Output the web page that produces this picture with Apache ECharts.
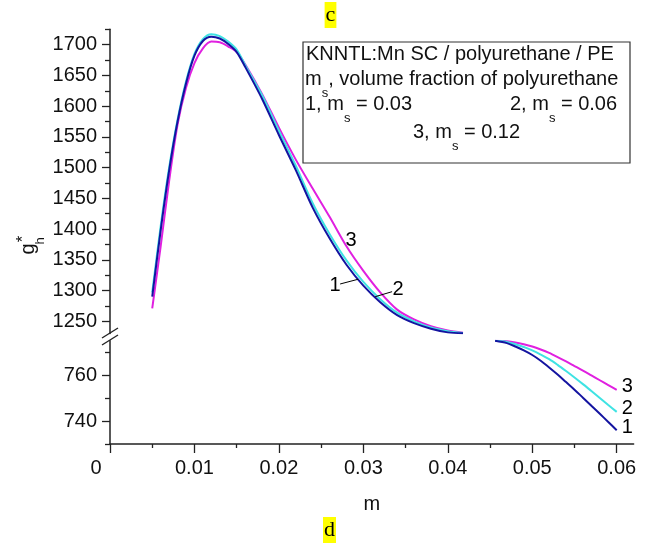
<!DOCTYPE html>
<html>
<head>
<meta charset="utf-8">
<script src="https://cdn.jsdelivr.net/npm/echarts@6/dist/echarts.min.js"></script>
<style>
  html, body { margin: 0; padding: 0; background: #fff; }
  #chart { width: 655px; height: 544px; }
</style>
</head>
<body>
<div id="chart"></div>
<script>
// Upper segment of the broken axis: m from 0.005 to ~0.042
const mUpper = [0.0050, 0.0060, 0.0070, 0.0080, 0.0090, 0.0100, 0.0110, 0.0120, 0.0130,
                0.0140, 0.0150, 0.0160, 0.0180, 0.0200, 0.0220, 0.0240, 0.0260, 0.0280,
                0.0300, 0.0320, 0.0340, 0.0360, 0.0380, 0.0400, 0.0418];
const g1Upper = [1290, 1398, 1495, 1575, 1637, 1682, 1706, 1713, 1710,
                 1701, 1688, 1664, 1612, 1553, 1496, 1435, 1385, 1342,
                 1308, 1281, 1260, 1247, 1238, 1232, 1230.5];
const g2Upper = [1297, 1405, 1500, 1578, 1640, 1685, 1709, 1717, 1714,
                 1705, 1692, 1667, 1618, 1560, 1503, 1442, 1392, 1349,
                 1314, 1286, 1264, 1250, 1240, 1234, 1231];
const g3Upper = [1271, 1372, 1478, 1570, 1630, 1670, 1694, 1705, 1704,
                 1697, 1688, 1668, 1620, 1565, 1513, 1466, 1420, 1372,
                 1332, 1297, 1269, 1253, 1242, 1235, 1231.5];

// Lower segment: m from ~0.0456 to 0.06
const mLower = [0.0456, 0.0470, 0.0480, 0.0490, 0.0500, 0.0510, 0.0520, 0.0530,
                0.0540, 0.0550, 0.0560, 0.0570, 0.0580, 0.0590, 0.0600];
const g1Lower = [775, 774.0, 772.5, 770.8, 768.8, 766.3, 763.4, 760.3,
                 757.0, 753.7, 750.2, 746.7, 743.2, 739.6, 736.0];
const g2Lower = [775, 774.5, 773.5, 772.3, 770.8, 769.0, 767.0, 764.5,
                 761.8, 759.0, 756.1, 753.1, 750.1, 747.0, 744.0];
const g3Lower = [775, 774.8, 774.3, 773.5, 772.5, 771.2, 769.7, 767.9,
                 766.0, 764.0, 762.0, 759.9, 757.8, 755.7, 753.6];

// Tick values
const xMajorTicks = [0, 0.01, 0.02, 0.03, 0.04, 0.05, 0.06];
const xMinorTicks = [0.005, 0.015, 0.025, 0.035, 0.045, 0.055];
const yUpperMajor = [1250, 1300, 1350, 1400, 1450, 1500, 1550, 1600, 1650, 1700];
const yUpperMinor = [1275, 1325, 1375, 1425, 1475, 1525, 1575, 1625, 1675, 1725];
const yLowerMajor = [740, 760];
const yLowerMinor = [730, 750, 770];

// Curve names and in-plot annotations
const curveNames = ['1', '2', '3'];
const msValues = ['0.03', '0.06', '0.12'];
const label3Coord = [0.02855, 1381];
const label1Coord = [0.02666, 1308];
const label2Coord = [0.0341, 1301];
const leader1 = [[0.02725, 1310.7], [0.02938, 1318.4]];
const leader2 = [[0.0314, 1290], [0.0334, 1298.2]];

const FONT = '"Liberation Sans", Arial, sans-serif';
const SERIF = '"Liberation Serif", "Times New Roman", serif';
const AXIS_COLOR = '#222';
const colors = ['#1414a0', '#3fe3e3', '#e020e0'];

const pairs = (xs, ys) => xs.map((x, i) => [x, ys[i]]);

const chart = echarts.init(document.getElementById('chart'), null, { renderer: 'canvas' });

const gridUpper = { left: 110, right: 21.4, top: 29.3, height: 304.3, outerBoundsMode: 'none' };
const gridLower = { left: 110, right: 21.4, top: 340.8, height: 103.2, outerBoundsMode: 'none' };

const tickStyle = { color: AXIS_COLOR, width: 1.3 };
const labelStyle = { fontSize: 20, color: '#111', fontFamily: FONT };

function majorY(grid, min, max, ticks) {
  return {
    gridIndex: grid, type: 'value', min: min, max: max, position: 'left',
    axisLine: { show: true, onZero: false, lineStyle: { color: AXIS_COLOR, width: 1.5 } },
    axisTick: { show: true, inside: false, length: 8, customValues: ticks, lineStyle: tickStyle },
    axisLabel: Object.assign({ show: true, margin: 13, customValues: ticks, formatter: v => String(v) }, labelStyle),
    splitLine: { show: false }
  };
}
function minorY(grid, min, max, ticks) {
  return {
    gridIndex: grid, type: 'value', min: min, max: max, position: 'left', offset: 0,
    axisLine: { show: false },
    axisTick: { show: true, inside: false, length: 5, customValues: ticks, lineStyle: tickStyle },
    axisLabel: { show: false },
    splitLine: { show: false }
  };
}

function lineSeries(name, xi, yi, data, color, extra) {
  return Object.assign({
    name: name, type: 'line', xAxisIndex: xi, yAxisIndex: yi,
    data: data, smooth: 0.3, showSymbol: false, symbol: 'none',
    lineStyle: { color: color, width: 2 }, itemStyle: { color: color },
    emphasis: { disabled: true }, silent: true
  }, extra || {});
}

const pointLabel = (name, coord) => ({
  name: name, coord: coord, symbol: 'circle', symbolSize: 1,
  itemStyle: { color: 'rgba(0,0,0,0)' },
  label: { show: true, position: 'inside', formatter: name, color: '#000', fontSize: 20, fontFamily: FONT }
});
const leader = (seg) => [{ coord: seg[0] }, { coord: seg[1] }];
const leaderLines = (segs) => ({
  silent: true, symbol: ['none', 'none'], animation: false,
  label: { show: false }, emphasis: { disabled: true },
  lineStyle: { color: '#000', width: 1, type: 'solid' },
  data: segs.map(leader)
});
const endLabel = (text) => ({
  show: true, formatter: text, color: '#000', fontSize: 20, fontFamily: FONT,
  distance: 5, offset: [0, -3]
});

// Text measuring for laying out "main + subscript + main" pieces
const measureCtx = document.createElement('canvas').getContext('2d');
function textWidth(str, size) {
  measureCtx.font = size + 'px "Liberation Sans", Arial, sans-serif';
  return measureCtx.measureText(str).width;
}
function plainText(x, y, str, size) {
  return {
    type: 'text', x: x, y: y,
    style: { text: str, fontSize: size, fontFamily: FONT, fill: '#111', align: 'left', verticalAlign: 'middle' }
  };
}
// "before" + subscript "s" + "after", vertically centred on y
function withSubscript(x, y, before, after) {
  const w1 = textWidth(before, 20);
  const ws = textWidth('s', 13);
  return [
    plainText(x, y, before, 20),
    plainText(x + w1, y + 14, 's', 13),
    plainText(x + w1 + ws, y, after, 20)
  ];
}

const legendTexts = [].concat(
  [plainText(306, 54, 'KNNTL:Mn SC / polyurethane / PE', 20)],
  withSubscript(305, 79, 'm', ', volume fraction of polyurethane'),
  withSubscript(305, 104, curveNames[0] + ', m', ' = ' + msValues[0]),
  withSubscript(510, 104, curveNames[1] + ', m', ' = ' + msValues[1]),
  withSubscript(413, 132, curveNames[2] + ', m', ' = ' + msValues[2])
);

const option = {
  animation: false,
  backgroundColor: '#fff',
  grid: [gridUpper, gridLower],
  xAxis: [
    { gridIndex: 0, type: 'value', min: 0, max: 0.062, show: false },
    {
      gridIndex: 1, type: 'value', min: 0, max: 0.062, position: 'bottom',
      axisLine: { show: true, onZero: false, lineStyle: { color: AXIS_COLOR, width: 1.5 } },
      axisTick: { show: true, inside: false, length: 9, customValues: xMajorTicks, lineStyle: tickStyle },
      axisLabel: Object.assign({
        show: true, margin: 14, customValues: xMajorTicks,
        formatter: v => (v === 0 ? '{z|0}' : v.toFixed(2)),
        rich: { z: { fontSize: 20, color: '#111', fontFamily: FONT, padding: [0, 28, 0, 0] } }
      }, labelStyle),
      splitLine: { show: false },
      name: 'm', nameLocation: 'middle', nameGap: 50,
      nameTextStyle: { fontSize: 20, color: '#111', fontFamily: FONT }
    },
    {
      gridIndex: 1, type: 'value', min: 0, max: 0.062, position: 'bottom',
      axisLine: { show: false },
      axisTick: { show: true, inside: false, length: 4, customValues: xMinorTicks, lineStyle: tickStyle },
      axisLabel: { show: false }, splitLine: { show: false }
    }
  ],
  yAxis: [
    majorY(0, 1230, 1725, yUpperMajor),
    minorY(0, 1230, 1725, yUpperMinor),
    majorY(1, 730, 775, yLowerMajor),
    minorY(1, 730, 775, yLowerMinor)
  ],
  series: [
    lineSeries(curveNames[2], 0, 0, pairs(mUpper, g3Upper), colors[2], {
      markPoint: { silent: true, animation: false, data: [pointLabel('3', label3Coord)] }
    }),
    lineSeries(curveNames[1], 0, 0, pairs(mUpper, g2Upper), colors[1], {
      markPoint: { silent: true, animation: false, data: [pointLabel('2', label2Coord)] },
      markLine: leaderLines([leader2])
    }),
    lineSeries(curveNames[0], 0, 0, pairs(mUpper, g1Upper), colors[0], {
      markPoint: { silent: true, animation: false, data: [pointLabel('1', label1Coord)] },
      markLine: leaderLines([leader1])
    }),
    lineSeries(curveNames[2], 1, 2, pairs(mLower, g3Lower), colors[2], { endLabel: endLabel('3') }),
    lineSeries(curveNames[1], 1, 2, pairs(mLower, g2Lower), colors[1], { endLabel: endLabel('2') }),
    lineSeries(curveNames[0], 1, 2, pairs(mLower, g1Lower), colors[0], { endLabel: endLabel('1') })
  ],
  graphic: [
    // panel tags
    {
      type: 'text', x: 330.5, y: 15,
      style: {
        text: 'c', fontSize: 22, fontFamily: SERIF, fill: '#000', lineHeight: 22,
        align: 'center', verticalAlign: 'middle',
        backgroundColor: '#ffff00', padding: [2, 1, 2, 1]
      }
    },
    {
      type: 'text', x: 329.5, y: 530,
      style: {
        text: 'd', fontSize: 22, fontFamily: SERIF, fill: '#000', lineHeight: 22,
        align: 'center', verticalAlign: 'middle',
        backgroundColor: '#ffff00', padding: [2, 1, 2, 1]
      }
    },
    // y axis title g_h*
    {
      type: 'text', x: 28, y: 249, rotation: Math.PI / 2,
      style: { text: 'g', fontSize: 20, fontFamily: FONT, fill: '#111', align: 'center', verticalAlign: 'middle' }
    },
    {
      type: 'text', x: 23, y: 239, rotation: Math.PI / 2,
      style: { text: '*', fontSize: 17, fontFamily: FONT, fill: '#111', align: 'center', verticalAlign: 'middle' }
    },
    {
      type: 'text', x: 40, y: 241, rotation: Math.PI / 2,
      style: { text: 'h', fontSize: 13, fontFamily: FONT, fill: '#111', align: 'center', verticalAlign: 'middle' }
    },
    // axis break marks
    {
      type: 'line', shape: { x1: 102, y1: 338, x2: 118, y2: 328 },
      style: { stroke: AXIS_COLOR, lineWidth: 1.4 }
    },
    {
      type: 'line', shape: { x1: 102, y1: 345, x2: 118, y2: 335 },
      style: { stroke: AXIS_COLOR, lineWidth: 1.4 }
    },
    // legend box
    {
      type: 'rect', shape: { x: 303, y: 42, width: 327, height: 121 },
      style: { fill: '#fff', stroke: '#333', lineWidth: 1.2 }
    }
  ].concat(legendTexts)
};

chart.setOption(option);
</script>
</body>
</html>
